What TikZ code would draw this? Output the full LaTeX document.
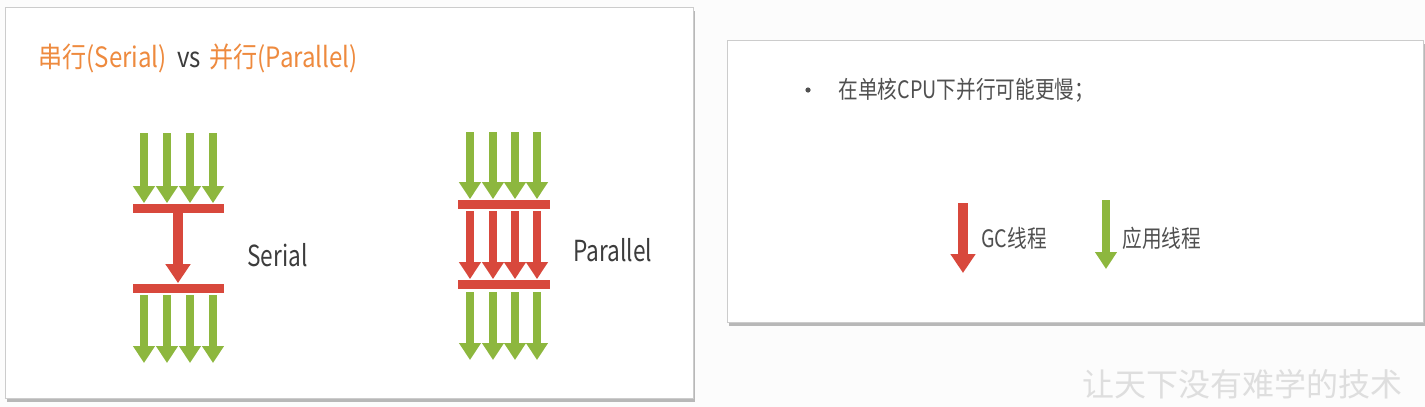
\documentclass[tikz,border=0pt]{standalone}
\usepackage{fontspec}
\usepackage{graphicx}
\setmainfont{Noto Sans CJK SC}
\usetikzlibrary{arrows.meta,shadows}
\definecolor{appgreen}{HTML}{8DB73E}
\definecolor{gcred}{HTML}{D8483C}
\definecolor{titleorange}{HTML}{EE8A3E}
\definecolor{txtgray}{HTML}{3C3C3C}
\definecolor{txtgray2}{HTML}{505050}
\definecolor{bgwhite}{HTML}{FCFCFC}
\newcommand{\hsq}[1]{\scalebox{0.78}[1]{#1}}
\begin{document}
\begin{tikzpicture}[x=0.5pt,y=-0.5pt,
  panel/.style={draw=black!20, fill=white, line width=0.6pt,
    drop shadow={shadow xshift=0.8pt, shadow yshift=-1.5pt, fill=black!45, opacity=0.6}},
  bar/.style={fill=gcred, minimum width=45.5pt, minimum height=4.5pt, inner sep=0pt, draw=none},
  garrow/.style={draw=appgreen, line width=4.2pt, -{Triangle[length=8.5pt,width=10.5pt]}},
  rarrow/.style={draw=gcred, line width=5pt, -{Triangle[length=9.5pt,width=12pt]}},
  prarrow/.style={draw=gcred, line width=4.4pt, -{Triangle[length=8.5pt,width=10.5pt]}},
  lbl/.style={text=txtgray, inner sep=0pt, anchor=west},
  dot/.style={circle, fill=txtgray2, inner sep=0pt, minimum size=2.6pt}]
\fill[bgwhite] (0,0) rectangle (1425,407);
\useasboundingbox (0,0) rectangle (1425,407);
% panels
\node[panel, minimum width=344pt, minimum height=195.5pt, anchor=north west, inner sep=0pt] (lp) at (5,7) {};
\node[panel, minimum width=348pt, minimum height=141pt, anchor=north west, inner sep=0pt] (rp) at (727,40) {};
% title
\node[lbl, font=\fontsize{14}{16}\selectfont] (title) at (38,58)
  {\scalebox{0.86}[1]{\textcolor{titleorange}{串行(Serial)}\hspace{6pt}\textcolor{txtgray}{vs}\hspace{5pt}\textcolor{titleorange}{并行(Parallel)}}};
% Serial diagram
\node[bar] (sb1) at (178.5,208) {};
\node[bar] (sb2) at (178.5,288) {};
\foreach \x [count=\i] in {144,167,190,213}{
  \coordinate (st\i) at (\x,133);
  \draw[garrow] (st\i) -- (st\i |- sb1.north);
  \coordinate (sl\i) at (\x,295);
  \coordinate (se\i) at (\x,363);
  \draw[garrow] (sl\i) -- (se\i);
}
\coordinate (sr) at (178,213);
\draw[rarrow] (sr) -- (sr |- sb2.north);
\node[lbl, font=\fontsize{14.5}{16}\selectfont] (slbl) at (247,255) {\hsq{Serial}};
% Parallel diagram
\node[bar, minimum width=46pt] (pb1) at (504,204) {};
\node[bar, minimum width=46pt] (pb2) at (504,284) {};
\foreach \x [count=\i] in {470,493,515,537}{
  \coordinate (pt\i) at (\x,132);
  \draw[garrow] (pt\i) -- (pt\i |- pb1.north);
  \coordinate (pm\i) at (\x,211);
  \draw[prarrow] (pm\i) -- (pt\i |- pb2.north);
  \coordinate (pl\i) at (\x,292);
  \coordinate (pe\i) at (\x,360);
  \draw[garrow] (pl\i) -- (pe\i);
}
\node[lbl, font=\fontsize{14.5}{16}\selectfont] (plbl) at (573,250) {\hsq{Parallel}};
% right panel
\node[dot] (bul) at (808,90) {};
\node[lbl, text=txtgray2, font=\fontsize{12}{14}\selectfont] (btext) at (838,90) {\scalebox{0.82}[1]{在单核CPU下并行可能更慢；}};
\coordinate (gct) at (963,203);
\coordinate (gcb) at (963,273);
\draw[rarrow] (gct) -- (gcb);
\node[lbl, text=txtgray2, font=\fontsize{12}{14}\selectfont] (gclbl) at (981,238) {\scalebox{0.82}[1]{GC线程}};
\coordinate (apt) at (1106,200);
\coordinate (apb) at (1106,269);
\draw[garrow] (apt) -- (apb);
\node[lbl, text=txtgray2, font=\fontsize{12}{14}\selectfont] (aplbl) at (1122,238) {\scalebox{0.82}[1]{应用线程}};
% watermark
\node[lbl, text=black!13, font=\fontsize{16}{18}\selectfont] (wm) at (1082,384) {让天下没有难学的技术};
\end{tikzpicture}
\end{document}
